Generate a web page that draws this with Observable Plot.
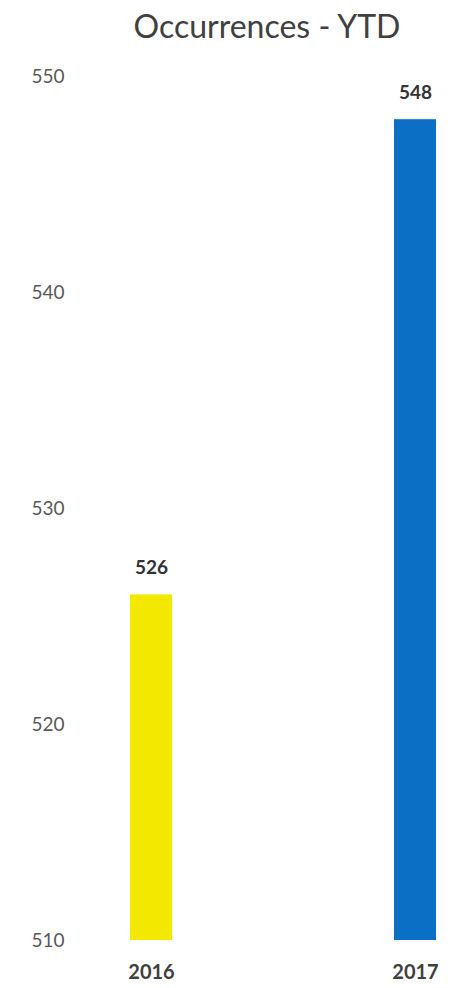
<!DOCTYPE html>
<html>
<head>
<meta charset="utf-8">
<script src="https://cdn.jsdelivr.net/npm/d3@7"></script>
<script src="https://cdn.jsdelivr.net/npm/@observablehq/plot@0.6"></script>
<style>
  html, body { margin: 0; padding: 0; background: #fff; }
  #title { height: 50px; line-height: 52px; box-sizing: border-box; padding-left: 68px; text-align: center;
           font-family: Lato, "Open Sans", sans-serif; font-size: 32px; color: #404040; white-space: nowrap; }
</style>
</head>
<body>
<div id="title">Occurrences - YTD</div>
<div id="chart"></div>
<script>
const years = ["2016", "2017"];
const values = [526, 548];
const colors = ["#f3e800", "#0b6fc6"];
const yTicks = [510, 520, 530, 540, 550];
const titleText = "Occurrences - YTD";

const data = years.map((y, i) => ({year: y, value: values[i], color: colors[i]}));
const yMin = yTicks[0];

const chart = Plot.plot({
  width: 466,
  height: 938,
  marginTop: 26,
  marginBottom: 48,
  marginLeft: 68,
  marginRight: 0,
  style: {fontFamily: "Lato, 'Open Sans', sans-serif", background: "#fff"},
  x: {type: "band", domain: years, range: [130, 436], paddingInner: 0.841, paddingOuter: 0},
  y: {domain: [yTicks[0], yTicks[yTicks.length - 1]]},
  marks: [
    Plot.barY(data, {x: "year", y1: yMin, y2: "value", fill: "color"}),
    Plot.text(data, {x: "year", y: "value", text: d => String(d.value), dy: -27,
      fontSize: 19, fontWeight: "bold", fill: "#333"}),
    Plot.axisY({ticks: yTicks, tickSize: 0, tickPadding: 4, fontSize: 19, color: "#595959", label: null}),
    Plot.axisX({tickSize: 0, tickPadding: 24, fontSize: 20, fontWeight: "bold", color: "#404040", label: null})
  ]
});
document.getElementById("chart").appendChild(chart);
</script>
</body>
</html>
